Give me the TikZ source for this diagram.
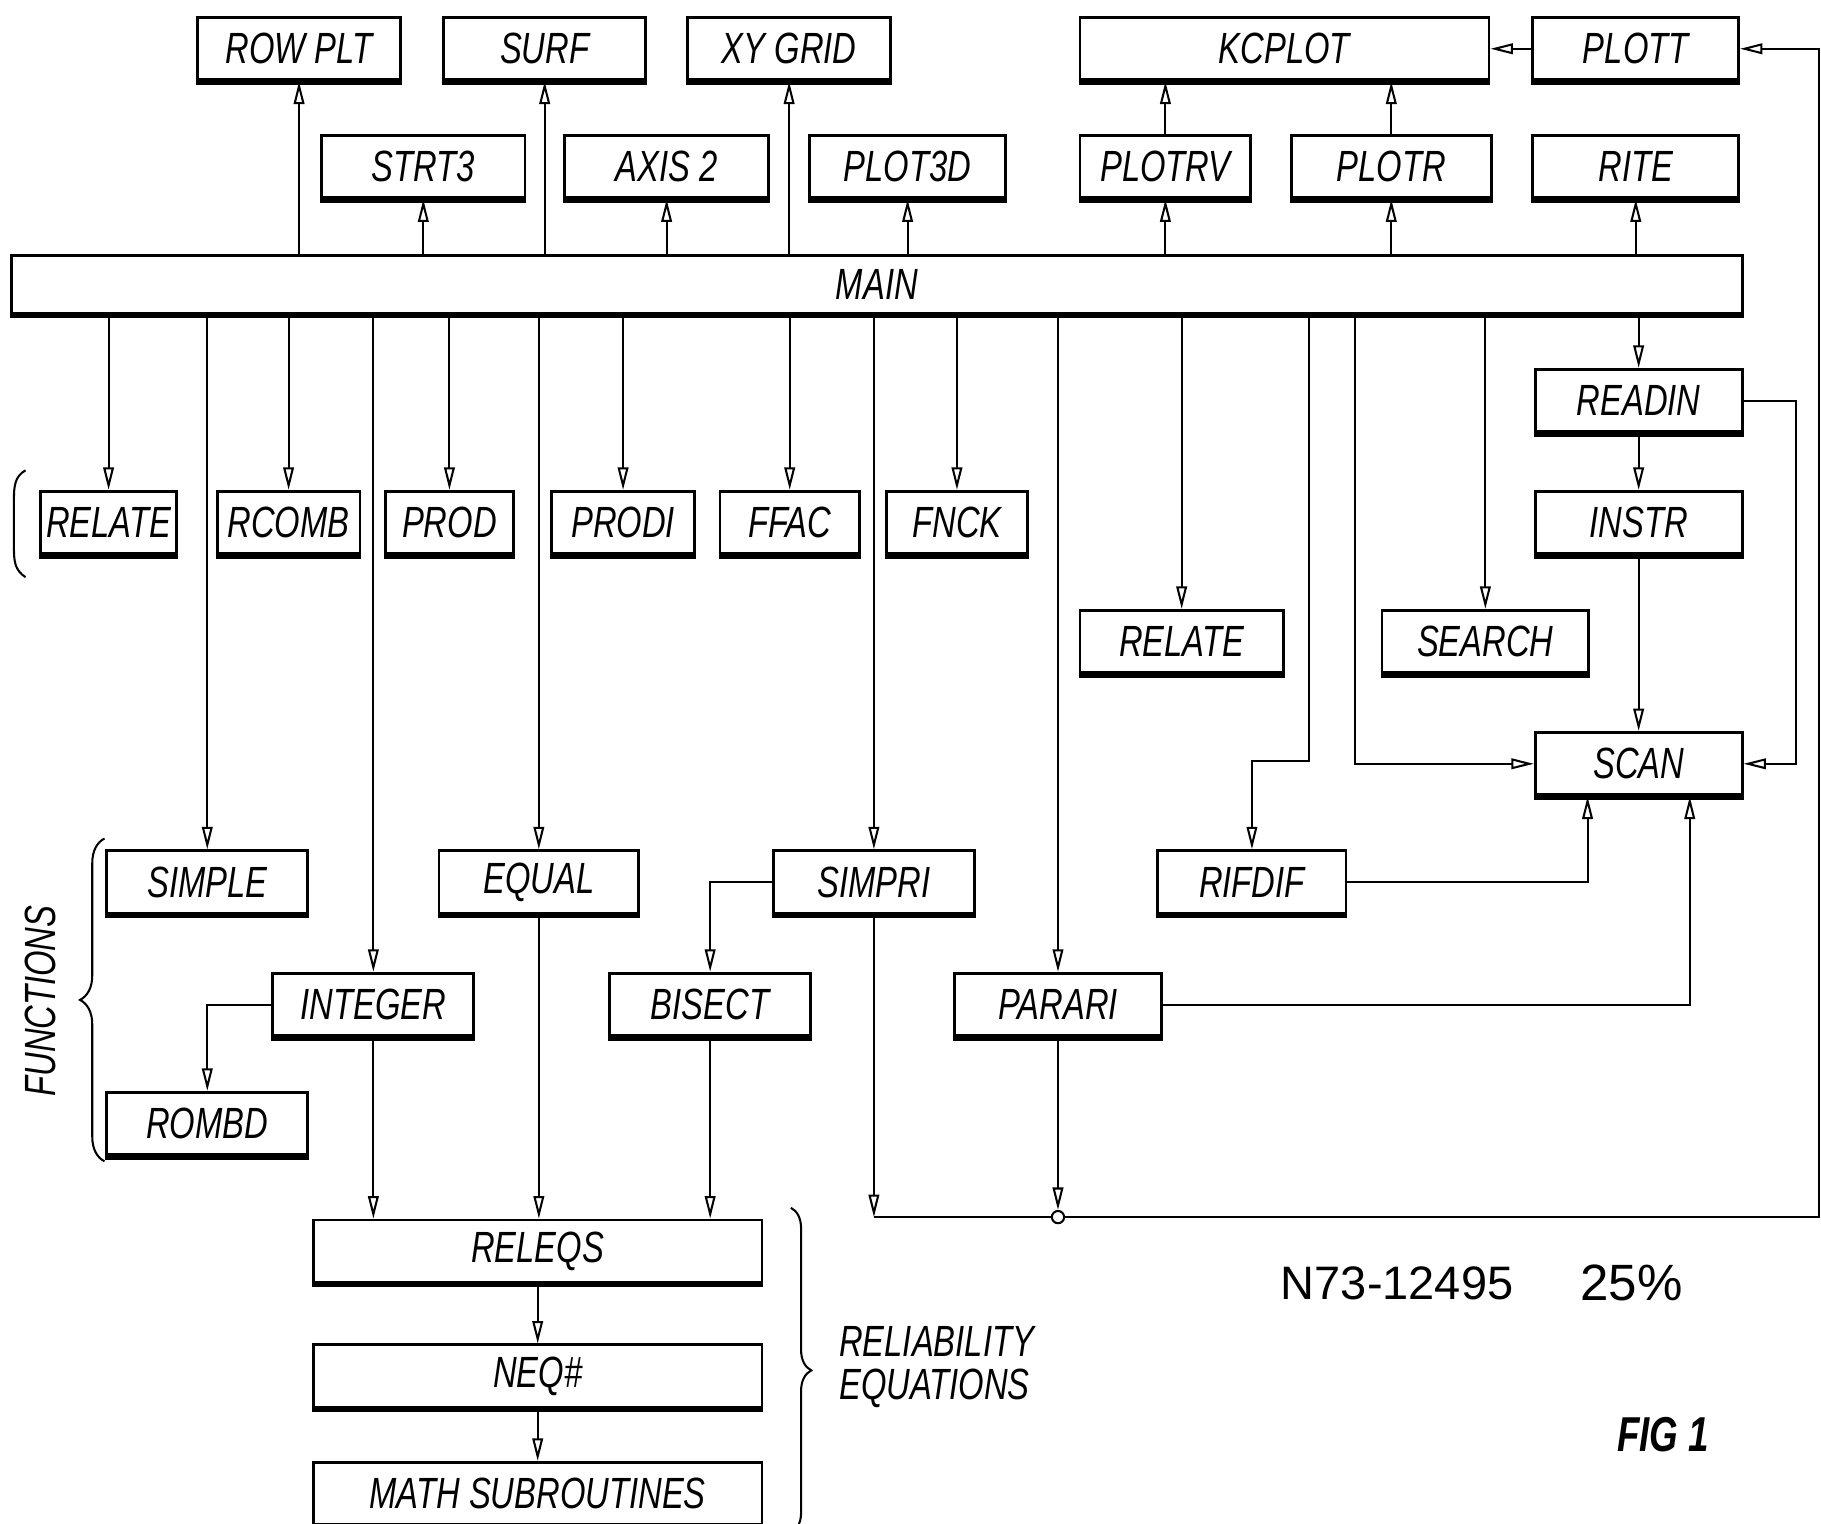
\documentclass[tikz,border=0pt]{standalone}
\usepackage{fontspec}
\newfontfamily\handfont[FakeStretch=0.75]{Liberation Sans}
\newfontfamily\notefont{Liberation Sans}
\usetikzlibrary{arrows.meta,positioning,decorations.pathreplacing}

\begin{document}
\begin{tikzpicture}[x=0.01cm, y=-0.01cm, on grid, line width=0.5pt,
  >={Triangle[open,length=5.5pt,width=2.6pt]},
  box/.style={draw, line width=0.7pt, minimum width=#1, minimum height=0.54cm,
    inner sep=1pt, font=\fontsize{10.7}{12}\handfont\itshape,
    append after command={(\tikzlastnode.south west) edge[-, line width=1.6pt] (\tikzlastnode.south east)}},
  box/.default=1.75cm,
  lbl/.style={font=\fontsize{10.7}{10.5}\handfont\itshape, align=left}]
  \useasboundingbox (0,0) rectangle (1568,1312);

  % plotting routines above MAIN
  \node[box] (rowplt) at (257.5,42) {ROW PLT};
  \node[box=1.74cm] (surf) at (469,42) {SURF};
  \node[box] (xygrid) at (679.5,42) {XY GRID};
  \node[box=3.52cm] (kcplot) at (1106,42) {KCPLOT};
  \node[box=1.77cm] (plott) at (1408.5,42) {PLOTT};

  \node[box] (strt3) at (364.5,143.5) {STRT3};
  \node[box=1.76cm] (axis2) at (574,143.5) {AXIS 2};
  \node[box=1.69cm] (plot3d) at (781.5,143.5) {PLOT3D};
  \node[box=1.47cm] (plotrv) at (1003.5,143.5) {PLOTRV};
  \node[box=1.72cm] (plotr) at (1198,143.5) {PLOTR};
  \node[box=1.77cm] (rite) at (1408.5,143.5) {RITE};

  \node[box=14.9cm, minimum height=0.5cm] (main) at (755,245) {MAIN};

  % first level below MAIN
  \node[box=1.17cm] (relateA) at (93.5,450) {RELATE};
  \node[box=1.23cm] (rcomb) at (248.5,450) {RCOMB};
  \node[box=1.10cm] (prod) at (387,450) {PROD};
  \node[box=1.23cm] (prodi) at (536.5,450) {PRODI};
  \node[box=1.20cm] (ffac) at (680,450) {FFAC};
  \node[box=1.22cm] (fnck) at (824,450) {FNCK};

  \node[box=1.78cm] (readin) at (1411,345) {READIN};
  \node[box=1.78cm] (instr) [below=1.05cm of readin] {INSTR};
  \node[box=1.78cm] (scan) [below=2.075cm of instr] {SCAN};
  \node[box] (relateB) at (1017.5,552.5) {RELATE};
  \node[box=1.78cm] (search) at (1279,552.5) {SEARCH};
  \node[box=1.62cm] (rifdif) at (1078,759.5) {RIFDIF};
  \node[box=1.78cm] (parari) at (911,865) {PARARI};

  % functions
  \node[box=1.73cm] (simple) at (178.5,759.5) {SIMPLE};
  \node[box=1.72cm] (equal) at (464,759.5) {EQUAL};
  \node[box=1.73cm] (simpri) at (752.5,759.5) {SIMPRI};
  \node[box=1.73cm] (integer) at (321.5,865) {INTEGER};
  \node[box=1.73cm] (bisect) at (611.5,865) {BISECT};
  \node[box=1.73cm] (rombd) at (178.5,967.5) {ROMBD};

  % reliability equations
  \node[box=3.86cm] (releqs) at (463,1077.5) {RELEQS};
  \node[box=3.86cm] (neq) [below=1.075cm of releqs] {NEQ\#};
  \node[box=3.86cm] (math) [below=1.01cm of neq] {MATH SUBROUTINES};

  \path[->]
  (rowplt |- main.north) edge (rowplt)
  (surf |- main.north) edge (surf)
  (xygrid |- main.north) edge (xygrid)
  (strt3 |- main.north) edge (strt3)
  (axis2 |- main.north) edge (axis2)
  (plot3d |- main.north) edge (plot3d)
  (plotrv |- main.north) edge (plotrv)
  (plotr |- main.north) edge (plotr)
  (rite |- main.north) edge (rite)
  (plotrv) edge (plotrv |- kcplot.south)
  (plotr) edge (plotr |- kcplot.south)
  (plott) edge (kcplot);

  \path[->]
  (relateA |- main.south) edge (relateA)
  (simple |- main.south) edge (simple)
  (rcomb |- main.south) edge (rcomb)
  (integer |- main.south) edge (integer)
  (prod |- main.south) edge (prod)
  (equal |- main.south) edge (equal)
  (prodi |- main.south) edge (prodi)
  (ffac |- main.south) edge (ffac)
  (simpri |- main.south) edge (simpri)
  (fnck |- main.south) edge (fnck)
  (parari |- main.south) edge (parari)
  (relateB |- main.south) edge (relateB)
  (search |- main.south) edge (search)
  (readin |- main.south) edge (readin)
  (readin) edge (instr)
  (instr) edge (scan)
  (releqs) edge (neq)
  (neq) edge (math)
  (integer) edge (integer |- releqs.north)
  (equal) edge (equal |- releqs.north)
  (bisect) edge (bisect |- releqs.north);

  \draw[->] (1127,0 |- main.south) -- (1127,655) -| (rifdif.north);
  \draw[->] (1167,0 |- main.south) |- (scan.west);
  \draw[->] (readin.east) -- ++(45,0) |- (scan.east);
  \draw[->] (rifdif.east) -| (1367,0 |- scan.south);
  \draw[->] (parari.east) -| (1455,0 |- scan.south);
  \draw[->] (simpri.west) -| (bisect.north);
  \draw[->] (integer.west) -| (rombd.north);

  % return line to PLOTT
  \node[circle, draw, fill=white, inner sep=0pt, minimum size=3pt] (jn) at (911,1048) {};
  \coordinate (cl) at (simpri |- jn);
  \draw[->] (simpri) -- (cl);
  \draw[->] (parari) -- (jn);
  \draw[->] (cl) -- (jn) -- (1566,0 |- jn) |- (plott.east);

  % brackets
  \draw (22,405) .. controls (13,410) and (12,418) .. (12,430) -- (12,472)
    .. controls (12,484) and (13,491) .. (22,497);
  \draw[decorate, decoration={brace, amplitude=6pt}] (90,1000) -- (90,722);
  \draw[decorate, decoration={brace, amplitude=5pt}] (681,1040) -- (681,1320);

  \node[lbl, rotate=90] (functions) at (35,862) {FUNCTIONS};
  \node[lbl, anchor=west] (reliab) at (710,1177) {RELIABILITY\\EQUATIONS};
  \node[font=\fontsize{11.5}{14}\notefont] (accn) at (1203,1105) {N73-12495};
  \node[font=\fontsize{12.5}{14}\notefont] (pct) at (1405,1105) {25\%};
  \node[font=\fontsize{12}{14}\handfont\itshape\bfseries] (fig) at (1432,1235) {FIG 1};
\end{tikzpicture}
\end{document}
